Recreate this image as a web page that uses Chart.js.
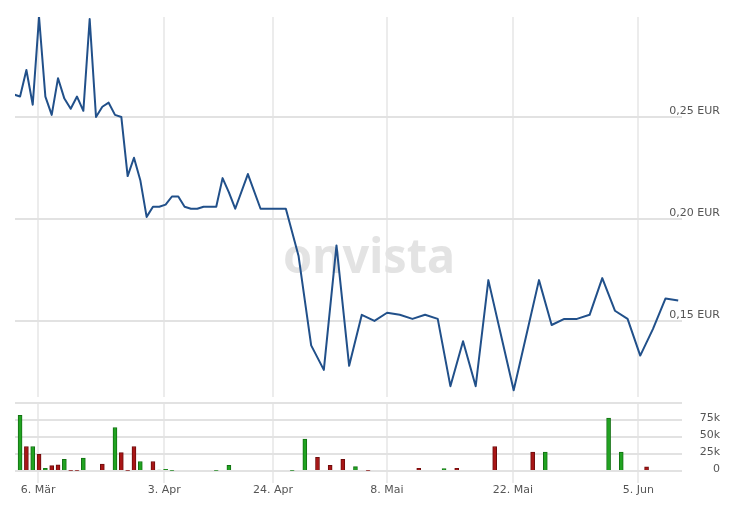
<!DOCTYPE html>
<html>
<head>
<meta charset="utf-8">
<title>Kurs</title>
<script src="https://cdn.jsdelivr.net/npm/chart.js@4.4.0/dist/chart.umd.min.js"></script>
<style>
  body { margin: 0; background: #fff; }
  #wrap { position: relative; width: 750px; height: 509px; }
  #price { position: absolute; left: 0; top: 0; }
  #vol { position: absolute; left: 0; top: 400px; }
</style>
</head>
<body>
<div id="wrap">
  <canvas id="price" width="750" height="400"></canvas>
  <canvas id="vol" width="750" height="109"></canvas>
</div>
<script>
// trading-day slots on the x axis
var priceDays = [0,1,2,3,4,5,6,7,8,9,10,11,12,13,14,15,16,17,18,19,20,21,22,23,24,25,26,27,28,29,30,31,32,33,34,35,
  37,39,41,43,45,47,49,51,53,55,57,59,61,63,65,67,69,71,73,75,77,79,81,83,85,87,89,91,93,95,97,99,101,103,105];
var prices = [0.261,0.260,0.273,0.256,0.299,0.260,0.251,0.269,0.259,0.254,0.260,0.253,0.298,0.250,0.255,0.257,0.251,0.250,
  0.221,0.230,0.219,0.201,0.206,0.206,0.207,0.211,0.211,0.206,0.205,0.205,0.206,0.206,0.206,0.220,0.213,0.205,
  0.222,0.205,0.205,0.205,0.182,0.138,0.126,0.187,0.128,0.153,0.150,0.154,0.153,0.151,0.153,0.151,0.118,0.140,0.118,
  0.170,0.143,0.116,0.143,0.170,0.148,0.151,0.151,0.153,0.171,0.155,0.151,0.133,0.146,0.161,0.160];

var volDays = [1,2,3,4,5,6,7,8,9,10,11,14,16,17,18,19,20,22,23,24,25,32,34,44,46,48,50,52,54,56,64,68,70,76,82,84,94,96,100];
var volumes = [82000,36000,36000,24500,4000,8000,9000,17000,1000,1000,19000,10000,64000,27000,1000,36000,14000,14000,1500,2500,1000,1000,8500,
  1000,47000,20000,8500,17000,6500,1000,4000,3500,4000,36000,28000,28000,78000,28000,6000];
var volUp = [1,0,1,0,1,0,0,1,0,0,1,0,1,0,0,0,1,0,1,1,1,1,1,1,1,0,0,0,1,0,0,1,0,0,0,1,1,1,0];

var tickDays = [3.84, 23.8, 40.96, 58.97, 78.88, 98.7];
var tickLabels = ['6. Mär', '3. Apr', '24. Apr', '8. Mai', '22. Mai', '5. Jun'];
var priceTicks = [0.15, 0.20, 0.25];
var volTicks = [0, 25000, 50000, 75000, 100000];

Chart.defaults.font.family = 'DejaVu Sans';
Chart.defaults.font.size = 11;
Chart.defaults.color = '#555';

var xMin = 0.2, xMax = 105.6;

// right axis: fixed width, labels right-aligned at the outer edge
function fixRightAxis(s) {
  s.width = 38;
  s.paddingTop = 0;
  s.paddingBottom = 0;
}

var watermark = {
  id: 'watermark',
  beforeDatasetsDraw: function(chart) {
    var c = chart.ctx;
    c.save();
    c.font = 'bold 48px "Noto Sans"';
    c.fillStyle = '#e3e3e3';
    c.textAlign = 'center';
    c.textBaseline = 'alphabetic';
    c.fillText('onvista', 369, 273, 172);
    c.restore();
  }
};

new Chart(document.getElementById('price'), {
  type: 'line',
  data: {
    datasets: [{
      data: priceDays.map(function(d, i) { return {x: d, y: prices[i]}; }),
      borderColor: '#21508a',
      borderWidth: 2,
      pointRadius: 0,
      tension: 0,
      borderJoinStyle: 'round'
    }]
  },
  options: {
    responsive: false,
    animation: false,
    layout: { padding: { left: 15, right: 30, top: 17, bottom: 3 } },
    plugins: { legend: { display: false }, tooltip: { enabled: false } },
    scales: {
      x: {
        type: 'linear', min: xMin, max: xMax,
        afterBuildTicks: function(s) { s.ticks = tickDays.map(function(v) { return {value: v}; }); },
        grid: { color: '#ececec', lineWidth: 2, drawTicks: false },
        border: { display: false },
        ticks: { display: false }
      },
      y: {
        position: 'right', min: 0.1127, max: 0.299,
        afterBuildTicks: function(s) { s.ticks = priceTicks.map(function(v) { return {value: v}; }); },
        afterFit: fixRightAxis,
        grid: { color: '#e2e2e2', lineWidth: 2, drawTicks: false },
        border: { display: false },
        ticks: {
          mirror: true, padding: 38, labelOffset: -6,
          callback: function(v) { return v.toFixed(2).replace('.', ',') + ' EUR'; }
        }
      }
    }
  },
  plugins: [watermark]
});

new Chart(document.getElementById('vol'), {
  type: 'bar',
  data: {
    datasets: [{
      data: volDays.map(function(d, i) { return {x: d, y: volumes[i]}; }),
      backgroundColor: volUp.map(function(u) { return u ? '#21a321' : '#a81616'; }),
      borderColor: volUp.map(function(u) { return u ? '#127012' : '#6e0c0c'; }),
      borderWidth: 1,
      barThickness: 4
    }]
  },
  options: {
    responsive: false,
    animation: false,
    layout: { padding: { left: 15, right: 30, top: 3, bottom: 0 } },
    plugins: { legend: { display: false }, tooltip: { enabled: false } },
    scales: {
      x: {
        type: 'linear', min: xMin, max: xMax, offset: false,
        afterBuildTicks: function(s) { s.ticks = tickDays.map(function(v) { return {value: v}; }); },
        afterFit: function(s) { s.height = 38; },
        grid: { color: '#ececec', lineWidth: 2, drawTicks: true, tickLength: 12, offset: false },
        border: { display: false },
        ticks: {
          autoSkip: false, maxRotation: 0, padding: 1,
          callback: function(v, i) { return tickLabels[i]; }
        }
      },
      y: {
        position: 'right', min: 0, max: 100000,
        afterBuildTicks: function(s) { s.ticks = volTicks.map(function(v) { return {value: v}; }); },
        afterFit: fixRightAxis,
        grid: { color: '#e2e2e2', lineWidth: 2, drawTicks: false },
        border: { display: false },
        ticks: {
          mirror: true, padding: 38, labelOffset: -1.5,
          callback: function(v) { return v === 0 ? '0' : (v >= 100000 ? '' : (v / 1000) + 'k'); }
        }
      }
    }
  }
});
</script>
</body>
</html>
